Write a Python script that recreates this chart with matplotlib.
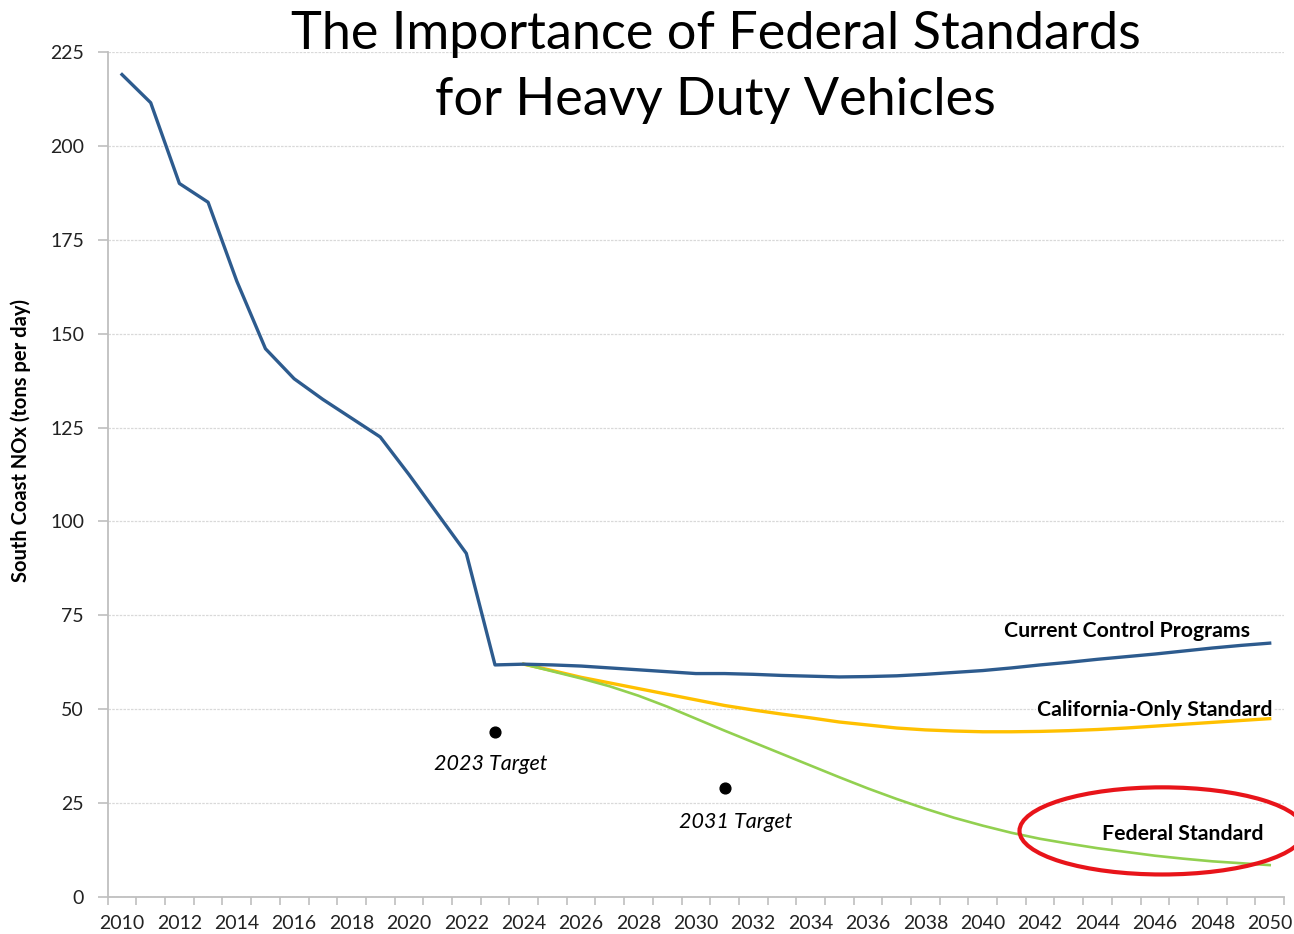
import matplotlib.pyplot as plt
from matplotlib.patches import Ellipse

# Data
years = list(range(2010, 2051))
current_programs = [219, 211.5, 190, 185, 164, 146, 138, 132.5, 127.5, 122.5,
                    112.5, 102, 91.5, 61.8, 62, 61.8, 61.5, 61, 60.5, 60,
                    59.5, 59.5, 59.3, 59, 58.8, 58.6, 58.7, 58.9, 59.3, 59.8,
                    60.3, 61, 61.8, 62.5, 63.3, 64, 64.7, 65.5, 66.3, 67, 67.6]
future_years = list(range(2024, 2051))
california_only = [62, 60.3, 58.5, 57, 55.5, 54, 52.5, 51, 49.8, 48.7,
                   47.7, 46.6, 45.8, 45, 44.5, 44.2, 44, 44, 44.1, 44.3,
                   44.6, 45, 45.5, 46, 46.5, 47, 47.5]
federal_standard = [62, 60.1, 58.2, 56.1, 53.6, 50.7, 47.5, 44.3, 41.2, 38.1,
                    35, 31.9, 28.9, 26.1, 23.5, 21.1, 19, 17.1, 15.5, 14.2,
                    13, 12, 11, 10.2, 9.5, 9, 8.5]
target_years = [2023, 2031]
target_values = [44, 29]
target_labels = ['2023 Target', '2031 Target']

plt.rcParams['font.family'] = ['Lato', 'DejaVu Sans']

fig = plt.figure(figsize=(12.94, 9.34), dpi=100)
ax = fig.add_axes([0.0832, 0.0396, 0.9091, 0.9047])

ax.plot(years, current_programs, color='#2d5b8e', lw=2.4, zorder=4)
ax.plot(future_years, california_only, color='#ffc000', lw=2.4, zorder=3)
ax.plot(future_years, federal_standard, color='#92d050', lw=1.9, zorder=3)
ax.scatter(target_years, target_values, color='black', s=60, zorder=5)

ax.text(2022.85, 35.4, target_labels[0], style='italic', fontsize=15.5,
        ha='center', va='center')
ax.text(2031.4, 20, target_labels[1], style='italic', fontsize=15.5,
        ha='center', va='center')

ax.text(2049.3, 70.8, 'Current Control Programs', fontweight='bold',
        fontsize=15.3, ha='right', va='center')
ax.text(2050.1, 49.8, 'California-Only Standard', fontweight='bold',
        fontsize=15.3, ha='right', va='center', zorder=2.5,
        bbox=dict(facecolor='white', edgecolor='none', pad=1))
ax.text(2049.8, 16.8, 'Federal Standard', fontweight='bold',
        fontsize=15.3, ha='right', va='center')

ax.add_patch(Ellipse((2046.25, 17.6), 9.94, 23.2, fill=False,
                     edgecolor='#e8141a', lw=3, clip_on=False, zorder=7))

ax.set_xlim(2009.5, 2050.5)
ax.set_ylim(0, 225)
ax.set_xticks(years[::2])
ax.set_xticks([y + 0.5 for y in range(2009, 2051)], minor=True)
ax.tick_params(axis='x', which='major', length=0, labelsize=14, pad=13,
               colors='#222222')
ax.tick_params(axis='x', which='minor', length=6, color='#bfbfbf', width=1.2)
ax.set_yticks(range(0, 226, 25))
ax.tick_params(axis='y', length=7, color='#bfbfbf', width=1.2,
               labelsize=14, pad=10)
ax.tick_params(axis='y', colors='#bfbfbf', labelcolor='#222222')
ax.grid(axis='y', color='#d9d9d9', lw=0.9, ls=(0, (2, 1)))
ax.set_axisbelow(True)
for side in ['top', 'right']:
    ax.spines[side].set_visible(False)
for side in ['left', 'bottom']:
    ax.spines[side].set_color('#bfbfbf')
    ax.spines[side].set_linewidth(1.3)

ax.set_ylabel('South Coast NOx (tons per day)', fontweight='bold',
              fontsize=14.5)
ax.yaxis.set_label_coords(-0.065, 0.54)

fig.text(0.553, 0.963, 'The Importance of Federal Standards',
         fontsize=37.6, ha='center', va='center')
fig.text(0.553, 0.892, 'for Heavy Duty Vehicles',
         fontsize=37.6, ha='center', va='center')

fig.savefig('out.png', dpi=100)
